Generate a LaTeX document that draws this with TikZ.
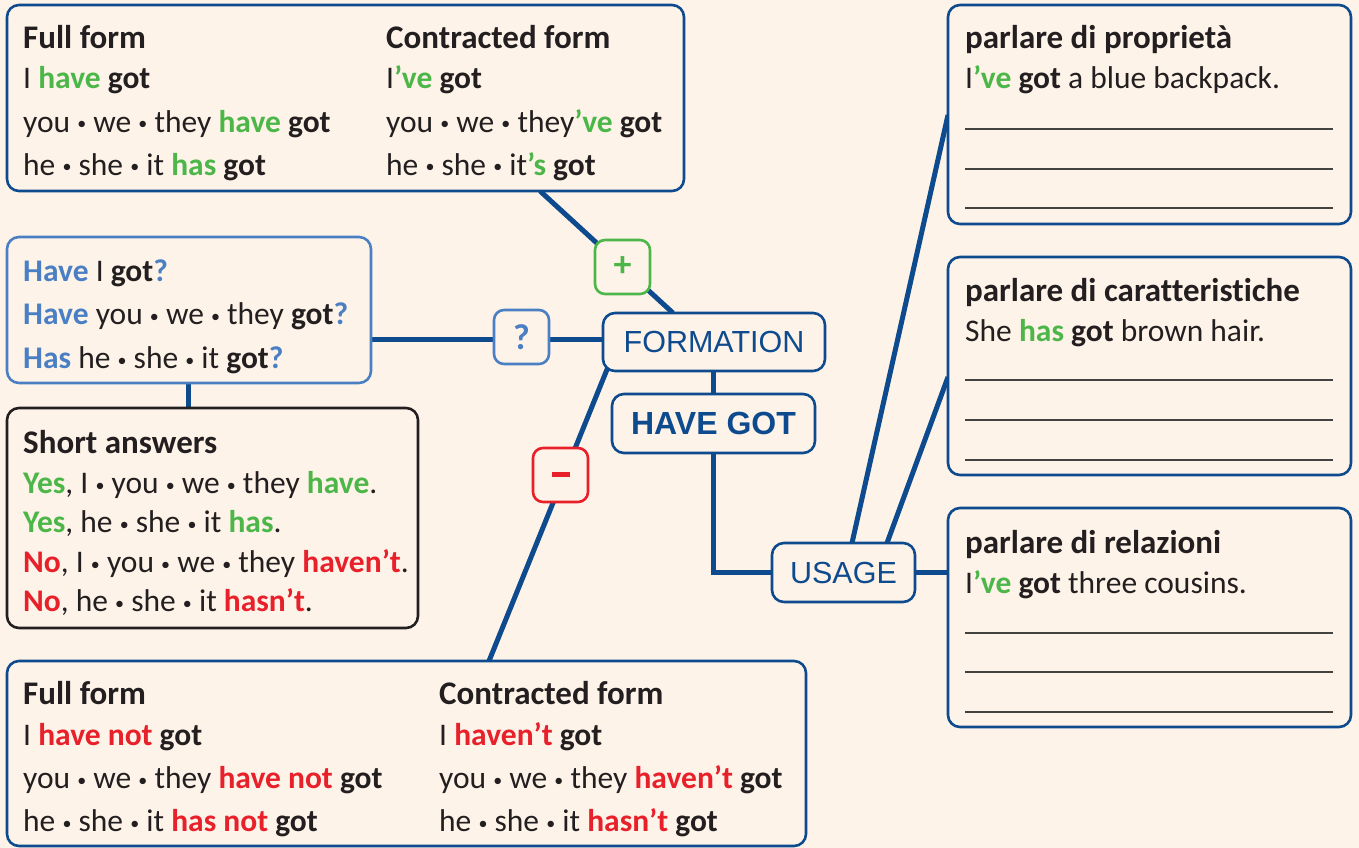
\documentclass[tikz,border=0pt]{standalone}
\usepackage{fontspec}
\setmainfont[Ligatures=NoCommon]{Carlito}
\newfontfamily\hvfont{Liberation Sans}
\usetikzlibrary{calc}
\definecolor{bgc}{HTML}{FEF3E9}
\definecolor{dblue}{HTML}{0D4A8E}
\definecolor{lblue}{HTML}{4A80C3}
\definecolor{grn}{HTML}{4CB748}
\definecolor{rd}{HTML}{E8202A}
\definecolor{ink}{HTML}{231F20}
\newcommand\GrB[1]{\textcolor{grn}{\bfseries #1}}
\newcommand\RdB[1]{\textcolor{rd}{\bfseries #1}}
\newcommand\BlB[1]{\textcolor{lblue}{\bfseries #1}}
\newcommand\Bk[1]{{\bfseries #1}}
\newcommand\dt{{\fontsize{18}{18}\selectfont\raisebox{2pt}{\textbullet}}}
\pgfdeclarelayer{bg}
\pgfdeclarelayer{lines}
\pgfsetlayers{bg,lines,main}
\begin{document}
\begin{tikzpicture}[x=1pt,y=-1pt,
  box/.style={draw=dblue, line width=2.6pt, rounded corners=12pt, fill=bgc, anchor=north west, inner sep=0, outer sep=0},
  qbox/.style={box, draw=lblue},
  kbox/.style={box, draw=ink},
  sbox/.style={box, rounded corners=10pt, minimum width=55pt, minimum height=54pt, font=\fontsize{36}{36}\selectfont\bfseries},
  hvbox/.style={box, rounded corners=12pt, text=dblue},
  conn/.style={draw=dblue, line width=5pt},
  txt/.style={anchor=base west, inner sep=0, font=\fontsize{31.5}{34}\selectfont, text=ink},
  hd/.style={txt, font=\fontsize{33}{34}\selectfont\bfseries},
  wline/.style={draw=ink!85, line width=1.4pt}]
\useasboundingbox (0,0) rectangle (1359,848);
\begin{pgfonlayer}{bg}
\fill[bgc] (0,0) rectangle (1359,848);
\end{pgfonlayer}

% ---- boxes ----
\node[box, minimum width=677pt, minimum height=186pt] (aff) at (7,5) {};
\node[qbox, minimum width=364pt, minimum height=146pt] (que) at (7,237) {};
\node[kbox, minimum width=411pt, minimum height=220pt] (sho) at (7,408) {};
\node[box, minimum width=799pt, minimum height=185pt] (neg) at (7,661) {};
\node[hvbox, minimum width=222pt, minimum height=58pt, font=\hvfont\fontsize{30.5}{30}\selectfont] (form) at (603,313) {FORMATION};
\node[hvbox, minimum width=203pt, minimum height=59pt, font=\hvfont\fontsize{32}{32}\selectfont\bfseries] (hg) at (612,394) {HAVE GOT};
\node[hvbox, minimum width=143pt, minimum height=59pt, font=\hvfont\fontsize{30.5}{30}\selectfont] (use) at (772,543) {USAGE};
\node[sbox, draw=grn, text=grn] (plus) at (595,240) {+};
\node[sbox, draw=lblue, text=lblue] (qm) at (494,310) {?};
\node[sbox, draw=rd, text=rd] (minus) at (533,448) {\raisebox{2pt}{\rule{18pt}{5pt}}};
\node[box, minimum width=403pt, minimum height=219pt] (u1) at (948,5) {};
\node[box, minimum width=403pt, minimum height=218pt] (u2) at (948,257) {};
\node[box, minimum width=403pt, minimum height=219pt] (u3) at (948,508) {};

% ---- connectors ----
\begin{pgfonlayer}{lines}
\draw[conn] ($(aff.south west)+(533,0)$) -- ($(form.north west)+(70,0)$);
\draw[conn] ($(que.north east)+(0,102)$) coordinate (qe) -- (qe -| form.west);
\draw[conn] ($(que.south west)+(181,0)$) -- ($(sho.north west)+(181,0)$);
\draw[conn] ($(form.south west)+(5,-4)$) -- ($(neg.north west)+(482,0)$);
\draw[conn] ($(form.south west)+(110,0)$) -- ($(hg.north west)+(101,0)$);
\draw[conn] ($(hg.south west)+(101,0)$) |- (use.west);
\draw[conn] ($(use.north west)+(80,0)$) -- ($(u1.north west)+(0,110)$);
\draw[conn] ($(use.north west)+(115,0)$) -- ($(u2.north west)+(0,120)$);
\draw[conn] (use.east) -- (use.east -| u3.west);
\end{pgfonlayer}

% ---- affirmative ----
\node[hd] (a0) at (23,49) {Full form};
\node[txt] (a1) at (23,89) {I \GrB{have} \Bk{got}};
\node[txt] (a2) at (23,132) {you \dt{} we \dt{} they \GrB{have} \Bk{got}};
\node[txt] (a3) at (23,175) {he \dt{} she \dt{} it \GrB{has} \Bk{got}};
\node[hd] (b0) at (386,49) {Contracted form};
\node[txt] (b1) at (386,89) {I\GrB{’ve} \Bk{got}};
\node[txt] (b2) at (386,132) {you \dt{} we \dt{} they\GrB{’ve} \Bk{got}};
\node[txt] (b3) at (386,175) {he \dt{} she \dt{} it\GrB{’s} \Bk{got}};

% ---- questions ----
\node[txt] (q1) at (23,281) {\BlB{Have} I \Bk{got}\BlB{?}};
\node[txt] (q2) at (23,324) {\BlB{Have} you \dt{} we \dt{} they \Bk{got}\BlB{?}};
\node[txt] (q3) at (23,368) {\BlB{Has} he \dt{} she \dt{} it \Bk{got}\BlB{?}};

% ---- short answers ----
\node[hd] (s0) at (23,453) {Short answers};
\node[txt] (s1) at (23,493) {\GrB{Yes}, I \dt{} you \dt{} we \dt{} they \GrB{have}.};
\node[txt] (s2) at (23,532) {\GrB{Yes}, he \dt{} she \dt{} it \GrB{has}.};
\node[txt] (s3) at (23,572) {\RdB{No}, I \dt{} you \dt{} we \dt{} they \RdB{haven’t}.};
\node[txt] (s4) at (23,611) {\RdB{No}, he \dt{} she \dt{} it \RdB{hasn’t}.};

% ---- negative ----
\node[hd] (n0) at (23,704) {Full form};
\node[txt] (n1) at (23,745) {I \RdB{have not} \Bk{got}};
\node[txt] (n2) at (23,788) {you \dt{} we \dt{} they \RdB{have not} \Bk{got}};
\node[txt] (n3) at (23,831) {he \dt{} she \dt{} it \RdB{has not} \Bk{got}};
\node[hd] (m0) at (439,704) {Contracted form};
\node[txt] (m1) at (439,745) {I \RdB{haven’t} \Bk{got}};
\node[txt] (m2) at (439,788) {you \dt{} we \dt{} they \RdB{haven’t} \Bk{got}};
\node[txt] (m3) at (439,831) {he \dt{} she \dt{} it \RdB{hasn’t} \Bk{got}};

% ---- usage ----
\node[hd] (u1t) at (965,49) {parlare di proprietà};
\node[txt] (u1e) at (965,89) {I\GrB{’ve} \Bk{got} a blue backpack.};
\node[hd] (u2t) at (965,301) {parlare di caratteristiche};
\node[txt] (u2e) at (965,341) {She \GrB{has} \Bk{got} brown hair.};
\node[hd] (u3t) at (965,553) {parlare di relazioni};
\node[txt] (u3e) at (965,593) {I\GrB{’ve} \Bk{got} three cousins.};
\foreach \y in {129,169,208, 380,420,460, 633,672,712}
  \draw[wline] (965,\y) -- (1333,\y);
\end{tikzpicture}
\end{document}
